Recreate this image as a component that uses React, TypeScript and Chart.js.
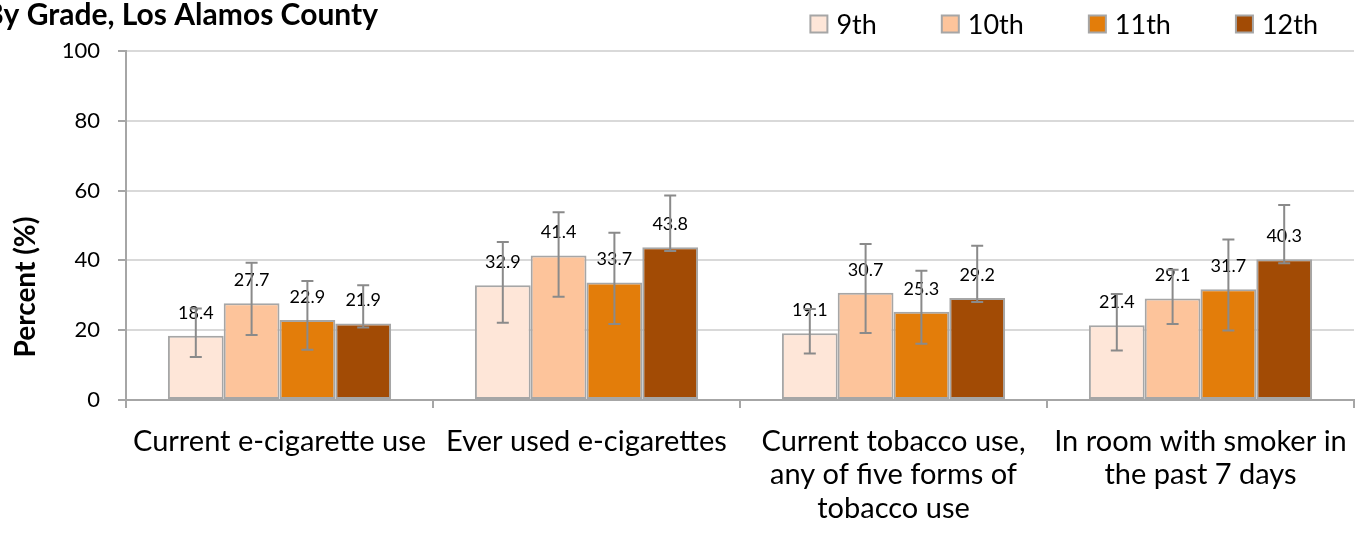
import React, { useEffect, useRef } from "react";
import { Chart, registerables } from "chart.js";

Chart.register(...registerables);

const categories: (string | string[])[] = [
  "Current e-cigarette use",
  "Ever used e-cigarettes",
  ["Current tobacco use,", "any of five forms of", "tobacco use"],
  ["In room with smoker in", "the past 7 days"],
];

const grades = ["9th", "10th", "11th", "12th"];

const values9th = [18.4, 32.9, 19.1, 21.4];
const values10th = [27.7, 41.4, 30.7, 29.1];
const values11th = [22.9, 33.7, 25.3, 31.7];
const values12th = [21.9, 43.8, 29.2, 40.3];

const lower9th = [12.3, 22.1, 13.3, 14.2];
const upper9th = [26.2, 45.3, 26.1, 30.4];
const lower10th = [18.6, 29.6, 19.2, 21.8];
const upper10th = [39.3, 53.8, 44.7, 37.3];
const lower11th = [14.4, 21.8, 16.1, 19.9];
const upper11th = [34.1, 47.9, 37.0, 46.0];
const lower12th = [20.8, 42.7, 28.1, 39.2];
const upper12th = [32.9, 58.6, 44.2, 55.9];

const yTicks = [0, 20, 40, 60, 80, 100];

const titleText = "By Grade, Los Alamos County";
const yTitleText = "Percent (%)";

const gradeColors = ["#FEE6D8", "#FDC49B", "#E37D0A", "#A24B05"];
const FONT = "Lato, 'DejaVu Sans', sans-serif";
const BORDER = "#a6a6a6";

const seriesValues = [values9th, values10th, values11th, values12th];
const seriesLower = [lower9th, lower10th, lower11th, lower12th];
const seriesUpper = [upper9th, upper10th, upper11th, upper12th];

const decorPlugin = {
  id: "decor",
  afterDatasetsDraw(chart: any) {
    const ctx = chart.ctx;
    const yScale = chart.scales.y;
    // data labels
    chart.data.datasets.forEach((ds: any, i: number) => {
      const meta = chart.getDatasetMeta(i);
      meta.data.forEach((bar: any, j: number) => {
        ctx.save();
        ctx.font = `18px ${FONT}`;
        ctx.fillStyle = "#000";
        ctx.textAlign = "center";
        ctx.textBaseline = "middle";
        ctx.fillText(Number(ds.data[j]).toFixed(1), bar.x, bar.y - 23);
        ctx.restore();
      });
    });
    // error bars
    chart.data.datasets.forEach((ds: any, i: number) => {
      const meta = chart.getDatasetMeta(i);
      meta.data.forEach((bar: any, j: number) => {
        const lo = yScale.getPixelForValue(ds.errLow[j]);
        const hi = yScale.getPixelForValue(ds.errHigh[j]);
        ctx.save();
        ctx.strokeStyle = "#8a8a8a";
        ctx.lineWidth = 2;
        ctx.beginPath();
        ctx.moveTo(bar.x, lo);
        ctx.lineTo(bar.x, hi);
        ctx.moveTo(bar.x - 6, lo);
        ctx.lineTo(bar.x + 6, lo);
        ctx.moveTo(bar.x - 6, hi);
        ctx.lineTo(bar.x + 6, hi);
        ctx.stroke();
        ctx.restore();
      });
    });
  },
  afterDraw(chart: any) {
    const ctx = chart.ctx;
    // title
    ctx.save();
    ctx.font = `bold 30px ${FONT}`;
    ctx.fillStyle = "#000";
    ctx.textAlign = "right";
    ctx.textBaseline = "alphabetic";
    ctx.fillText(titleText, 378, 25);
    ctx.restore();
    // y title
    ctx.save();
    ctx.translate(26, 287);
    ctx.rotate(-Math.PI / 2);
    ctx.font = `bold 28px ${FONT}`;
    ctx.fillStyle = "#000";
    ctx.textAlign = "center";
    ctx.textBaseline = "middle";
    ctx.fillText(yTitleText, 0, 0);
    ctx.restore();
    // legend (laid out from the right)
    ctx.save();
    ctx.font = `27px ${FONT}`;
    ctx.textBaseline = "middle";
    ctx.textAlign = "left";
    let right = 1318;
    const box = 17;
    const gapBoxText = 9;
    const gapItems = 65;
    for (let i = grades.length - 1; i >= 0; i--) {
      const w = ctx.measureText(grades[i]).width;
      const textX = right - w;
      const boxX = textX - gapBoxText - box;
      ctx.fillStyle = gradeColors[i];
      ctx.fillRect(boxX, 24 - box / 2, box, box);
      ctx.strokeStyle = BORDER;
      ctx.lineWidth = 2;
      ctx.strokeRect(boxX, 24 - box / 2, box, box);
      ctx.fillStyle = "#000";
      ctx.fillText(grades[i], textX, 25);
      right = boxX - gapItems;
    }
    ctx.restore();
  },
};

export default function App() {
  const ref = useRef<HTMLCanvasElement>(null);
  useEffect(() => {
    document.body.style.margin = "0";
    const chart = new Chart(ref.current as HTMLCanvasElement, {
      type: "bar",
      data: {
        labels: categories,
        datasets: grades.map((g, i) => ({
          label: g,
          data: seriesValues[i],
          errLow: seriesLower[i],
          errHigh: seriesUpper[i],
          backgroundColor: gradeColors[i],
          borderColor: BORDER,
          borderWidth: 2,
          borderSkipped: false,
          categoryPercentage: 0.727,
          barPercentage: 1.0,
        })) as any,
      },
      options: {
        animation: false,
        responsive: true,
        maintainAspectRatio: false,
        layout: { padding: { top: 51, right: 4, left: 0, bottom: 0 } },
        plugins: {
          legend: { display: false },
          title: { display: false },
          tooltip: { enabled: false },
        },
        scales: {
          x: {
            grid: {
              display: true,
              drawOnChartArea: false,
              drawTicks: true,
              tickLength: 8,
              color: BORDER,
              lineWidth: 2,
              offset: true,
            },
            border: { color: BORDER, width: 2 },
            ticks: {
              font: { family: FONT, size: 29, lineHeight: 1.15 },
              color: "#000",
              padding: 17,
              maxRotation: 0,
              minRotation: 0,
              autoSkip: false,
            },
            afterFit: (s: any) => {
              s.height = 133;
              s.paddingLeft = 0;
              s.paddingRight = 0;
            },
          },
          y: {
            min: 0,
            max: 100,
            afterBuildTicks: (s: any) => {
              s.ticks = yTicks.map((v) => ({ value: v }));
            },
            ticks: {
              font: { family: FONT, size: 22 },
              color: "#000",
              padding: 18,
            },
            grid: {
              color: "#d9d9d9",
              lineWidth: 2,
              tickColor: BORDER,
              tickLength: 8,
            },
            border: { color: BORDER, width: 2 },
            afterFit: (s: any) => {
              s.width = 126;
            },
          },
        },
      } as any,
      plugins: [decorPlugin],
    });
    return () => chart.destroy();
  }, []);
  return (
    <div style={{ position: "relative", width: 1358, height: 533 }}>
      <canvas ref={ref} />
    </div>
  );
}
